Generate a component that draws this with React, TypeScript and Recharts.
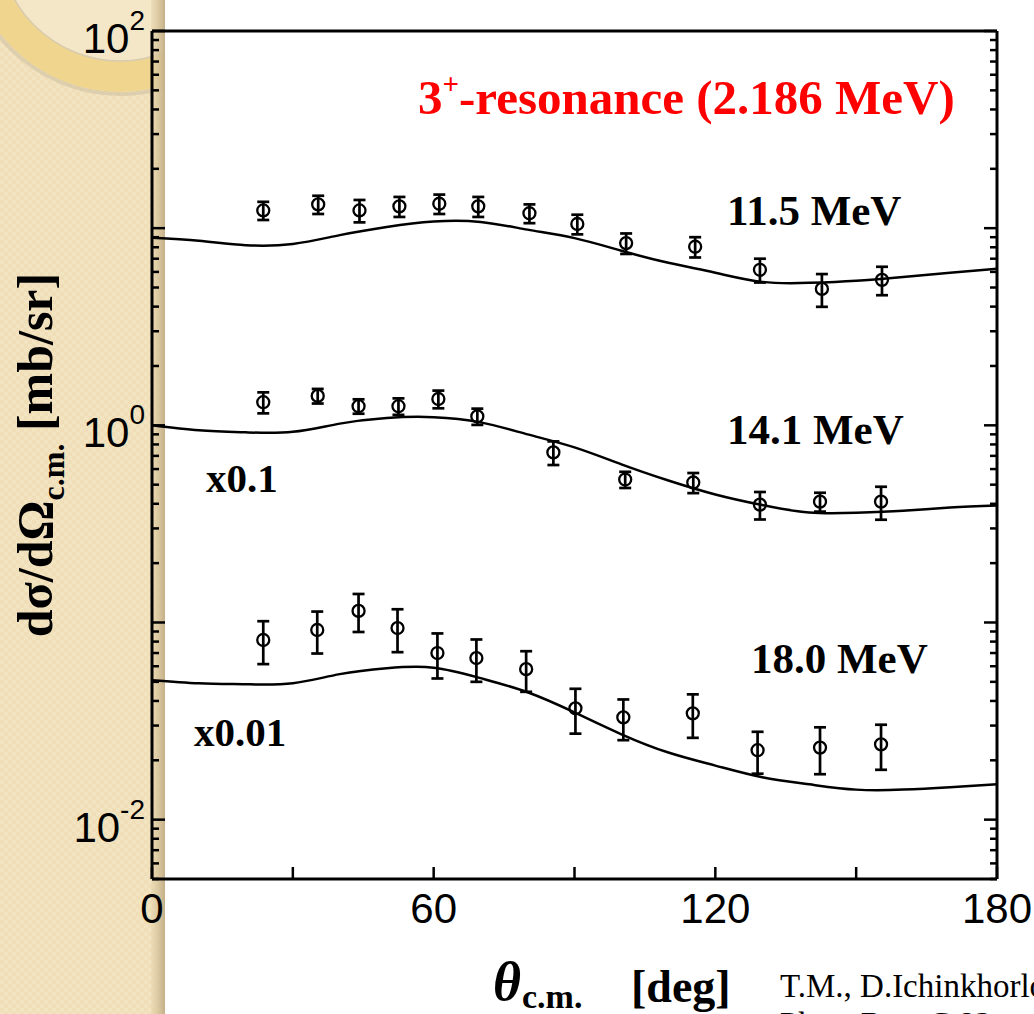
import React from "react";
import { ComposedChart, Line, Scatter, ErrorBar, XAxis, YAxis } from "recharts";

const W = 1034;
const H = 1014;
const serif = "'Liberation Serif', 'Times New Roman', serif";
const sans = "'Liberation Sans', Arial, sans-serif";

// measured cross sections (values as plotted, 14.1 scaled x0.1, 18.0 scaled x0.01)
const angles115 = [23.7, 35.4, 44.2, 52.7, 61.2, 69.5, 80.4, 90.6, 101.0, 115.7, 129.5, 142.7, 155.5];
const sigma115 = [12.3, 13.2, 12.3, 12.9, 13.3, 12.9, 11.9, 10.5, 8.4, 8.05, 6.15, 4.92, 5.47];
const err115 = [1.3, 1.4, 1.6, 1.5, 1.5, 1.5, 1.3, 1.2, 1.0, 0.95, 0.85, 0.93, 0.9];

const angles141 = [23.7, 35.3, 44.0, 52.5, 61.0, 69.3, 85.5, 100.8, 115.3, 129.5, 142.3, 155.3];
const sigma141 = [1.31, 1.41, 1.25, 1.25, 1.36, 1.11, 0.729, 0.531, 0.513, 0.396, 0.41, 0.41];
const err141 = [0.16, 0.12, 0.105, 0.12, 0.14, 0.105, 0.1, 0.05, 0.06, 0.063, 0.045, 0.078];

const angles180 = [23.7, 35.2, 44.0, 52.3, 60.8, 69.1, 79.7, 90.2, 100.4, 115.2, 129.0, 142.3, 155.3];
const sigma180 = [0.0815, 0.0916, 0.1145, 0.0937, 0.07, 0.066, 0.058, 0.0367, 0.033, 0.0346, 0.0225, 0.0232, 0.0241];
const err180 = [0.02, 0.022, 0.025, 0.023, 0.018, 0.016, 0.0135, 0.0094, 0.0077, 0.0086, 0.0054, 0.0062, 0.0062];

// theory curves
const curveAngles = [0, 10, 20, 30, 40, 50, 60, 70, 80, 90, 100, 110, 120, 130, 140, 150, 160, 170, 180];
const theory115 = [8.95, 8.64, 8.2, 8.32, 9.22, 10.14, 10.8, 10.75, 9.83, 8.9, 7.68, 6.67, 5.94, 5.34, 5.28, 5.41, 5.66, 5.94, 6.22];
const theory141 = [1.0, 0.943, 0.921, 0.927, 1.02, 1.09, 1.1, 1.035, 0.9, 0.773, 0.634, 0.525, 0.446, 0.394, 0.361, 0.36, 0.369, 0.383, 0.392];
const theory180 = [0.051, 0.0492, 0.0486, 0.0492, 0.0547, 0.0586, 0.059, 0.0522, 0.0443, 0.035, 0.0271, 0.0219, 0.0188, 0.0164, 0.0151, 0.0142, 0.0142, 0.0146, 0.0151];

const xTicks = [0, 30, 60, 90, 120, 150, 180];
const xLabelled = [0, 60, 120, 180];
const yDecades = [0.001, 0.01, 0.1, 1, 10];
const yMults = [1, 2, 3, 4, 5, 6, 7, 8, 9];
const yLabelled = [0.01, 1, 100];
const yExponents = ["-2", "0", "2"];
const yDomain = [0.005, 100];

const yTicks = yDecades
  .flatMap((d) => yMults.map((m) => m * d))
  .concat([100])
  .filter((v) => v >= yDomain[0] * 0.999 && v <= yDomain[1] * 1.001);

const points = (xs: number[], ys: number[], es: number[]) =>
  xs.map((x, i) => ({ x, y: ys[i], err: es[i] }));
const curve = (ys: number[]) => curveAngles.map((x, i) => ({ x, y: ys[i] }));

const data115 = points(angles115, sigma115, err115);
const data141 = points(angles141, sigma141, err141);
const data180 = points(angles180, sigma180, err180);

const isDecade = (v: number) => {
  const l = Math.log10(v);
  return Math.abs(l - Math.round(l)) < 1e-6;
};
const labelIndex = (v: number) => yLabelled.findIndex((t) => Math.abs(t - v) / t < 1e-6);

function LeftTick(props: any) {
  const { x, y, payload } = props;
  const v = payload.value;
  const li = labelIndex(v);
  return (
    <g>
      <line x1={x} x2={x + (isDecade(v) ? 13 : 7)} y1={y} y2={y} stroke="#000" strokeWidth={2.5} />
      {li >= 0 && (
        <text x={x - 7} y={y + 22} textAnchor="end" fontFamily={sans} fontSize={42} fill="#000">
          10
          <tspan dy={-23} fontSize={28}>
            {yExponents[li]}
          </tspan>
        </text>
      )}
    </g>
  );
}

function RightTick(props: any) {
  const { x, y, payload } = props;
  return <line x1={x} x2={x - (isDecade(payload.value) ? 13 : 7)} y1={y} y2={y} stroke="#000" strokeWidth={2.5} />;
}

function BottomTick(props: any) {
  const { x, y, payload } = props;
  return (
    <g>
      <line x1={x} x2={x} y1={y} y2={y - 12} stroke="#000" strokeWidth={2.5} />
      {xLabelled.includes(payload.value) && (
        <text x={x} y={y + 44} textAnchor="middle" fontFamily={sans} fontSize={42} fill="#000">
          {payload.value}
        </text>
      )}
    </g>
  );
}

function TopTick(props: any) {
  const { x, y } = props;
  return <line x1={x} x2={x} y1={y} y2={y + 12} stroke="#000" strokeWidth={2.5} />;
}

const OpenCircle = (p: any) => <circle cx={p.cx} cy={p.cy} r={6} fill="none" stroke="#000" strokeWidth={2.3} />;

const frame = { stroke: "#000", strokeWidth: 3 };

export default function App() {
  return (
    <div style={{ position: "absolute", left: 0, top: 0, width: W, height: H, overflow: "hidden", background: "#fff" }}>
      <svg width={W} height={H} style={{ position: "absolute", left: 0, top: 0 }}>
        <defs>
          <pattern id="chk" width="8" height="8" patternUnits="userSpaceOnUse">
            <rect width="8" height="8" fill="#f3e4c1" />
            <rect width="4" height="4" fill="#efdeb7" />
            <rect x="4" y="4" width="4" height="4" fill="#efdeb7" />
          </pattern>
          <linearGradient id="edge" x1="0" x2="1" y1="0" y2="0">
            <stop offset="0" stopColor="#e8d7ae" stopOpacity={0.6} />
            <stop offset="1" stopColor="#c4af87" />
          </linearGradient>
          <clipPath id="strip">
            <rect x={0} y={0} width={165} height={H} />
          </clipPath>
        </defs>
        <rect x={0} y={0} width={165} height={H} fill="url(#chk)" />
        <g clipPath="url(#strip)">
          <circle cx={120} cy={-60} r={154} fill="none" stroke="#cfc2a4" strokeWidth={4} opacity={0.6} />
          <circle cx={120} cy={-60} r={152} fill="#f0d58f" />
          <circle cx={120} cy={-60} r={121} fill="#f4e7c8" stroke="#d8cbae" strokeWidth={1.5} />
        </g>
        <rect x={151} y={0} width={14} height={H} fill="url(#edge)" />
      </svg>

      <div style={{ position: "absolute", left: 0, top: 0 }}>
        <ComposedChart width={W} height={H} margin={{ top: 0, right: 0, bottom: 0, left: 0 }}>
          <XAxis
            dataKey="x"
            type="number"
            domain={[0, 180]}
            ticks={xTicks}
            interval={0}
            height={135}
            tickSize={0}
            tickMargin={0}
            tickLine={false}
            axisLine={frame}
            tick={BottomTick}
          />
          <XAxis
            xAxisId="top"
            orientation="top"
            type="number"
            domain={[0, 180]}
            ticks={xTicks}
            interval={0}
            height={31}
            tickSize={0}
            tickMargin={0}
            tickLine={false}
            axisLine={frame}
            tick={TopTick}
          />
          <YAxis
            type="number"
            scale="log"
            domain={yDomain}
            allowDataOverflow
            ticks={yTicks}
            interval={0}
            width={152}
            tickSize={0}
            tickMargin={0}
            tickLine={false}
            axisLine={frame}
            tick={LeftTick}
          />
          <YAxis
            yAxisId="r"
            orientation="right"
            type="number"
            scale="log"
            domain={yDomain}
            allowDataOverflow
            ticks={yTicks}
            interval={0}
            width={37}
            tickSize={0}
            tickMargin={0}
            tickLine={false}
            axisLine={frame}
            tick={RightTick}
          />
          <Line data={curve(theory115)} dataKey="y" type="natural" stroke="#000" strokeWidth={2.5} dot={false} isAnimationActive={false} />
          <Line data={curve(theory141)} dataKey="y" type="natural" stroke="#000" strokeWidth={2.5} dot={false} isAnimationActive={false} />
          <Line data={curve(theory180)} dataKey="y" type="natural" stroke="#000" strokeWidth={2.5} dot={false} isAnimationActive={false} />
          <Scatter data={data115} dataKey="y" shape={OpenCircle} isAnimationActive={false}>
            <ErrorBar dataKey="err" direction="y" width={6} stroke="#000" strokeWidth={2.7} isAnimationActive={false} />
          </Scatter>
          <Scatter data={data141} dataKey="y" shape={OpenCircle} isAnimationActive={false}>
            <ErrorBar dataKey="err" direction="y" width={6} stroke="#000" strokeWidth={2.7} isAnimationActive={false} />
          </Scatter>
          <Scatter data={data180} dataKey="y" shape={OpenCircle} isAnimationActive={false}>
            <ErrorBar dataKey="err" direction="y" width={6} stroke="#000" strokeWidth={2.7} isAnimationActive={false} />
          </Scatter>
        </ComposedChart>
      </div>

      <svg width={W} height={H} style={{ position: "absolute", left: 0, top: 0, pointerEvents: "none" }}>
        <text x={418} y={114} fontFamily={serif} fontWeight="bold" fontSize={49} fill="#ff0000">
          3
          <tspan fontSize={29} dy={-20}>
            +
          </tspan>
          <tspan dy={20}>-resonance (2.186 MeV)</tspan>
        </text>
        <g fontFamily={serif} fontWeight="bold" fill="#000">
          <text x={727} y={225} fontSize={43}>11.5 MeV</text>
          <text x={727} y={444} fontSize={43}>14.1 MeV</text>
          <text x={751} y={673} fontSize={43}>18.0 MeV</text>
          <text x={206} y={492} fontSize={41}>x0.1</text>
          <text x={194} y={746} fontSize={41}>x0.01</text>
          <text transform="translate(52,455) rotate(-90)" textAnchor="middle" fontSize={50}>
            dσ/dΩ
            <tspan fontSize={32} dy={12}>
              c.m.
            </tspan>
            <tspan dy={-12}> [mb/sr]</tspan>
          </text>
          <text x={493} y={1000} fontSize={54} fontStyle="italic">
            θ
          </text>
          <text x={522} y={1008} fontSize={34}>
            c.m.
          </text>
          <text x={631} y={1002} fontSize={46}>
            [deg]
          </text>
        </g>
        <g fontFamily={serif} fill="#000" fontSize={33}>
          <text x={780} y={997}>T.M., D.Ichinkhorloo</text>
          <text x={780} y={1035}>Phys. Rev. C 82</text>
        </g>
      </svg>
    </div>
  );
}
